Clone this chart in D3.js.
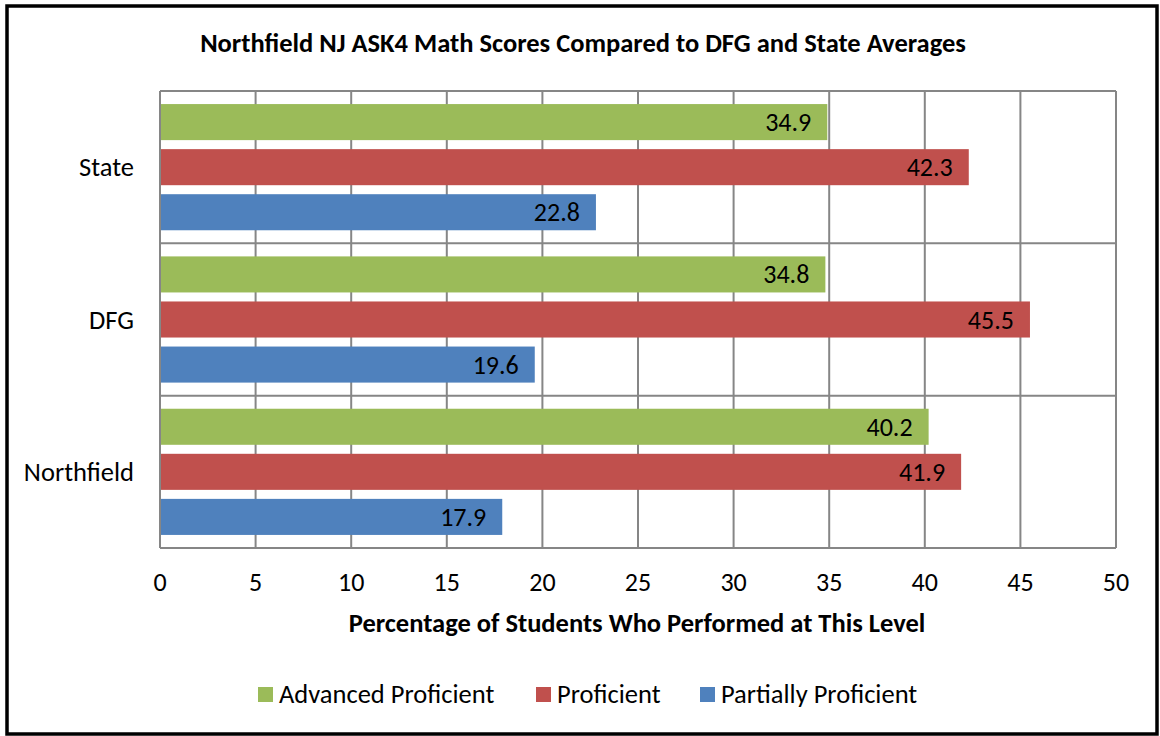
<!DOCTYPE html>
<html>
<head>
<meta charset="utf-8">
<script src="https://cdn.jsdelivr.net/npm/d3@7"></script>
<style>
  body { margin: 0; background: #fff; }
  text { font-family: Carlito, Calibri, Lato, sans-serif; fill: #000; }
</style>
</head>
<body>
<svg id="chart"></svg>
<script>
// data
var categories = ["State", "DFG", "Northfield"];
var seriesNames = ["Advanced Proficient", "Proficient", "Partially Proficient"];
var advanced = [34.9, 34.8, 40.2];
var proficient = [42.3, 45.5, 41.9];
var partial = [22.8, 19.6, 17.9];
var xTicks = [0, 5, 10, 15, 20, 25, 30, 35, 40, 45, 50];
var colors = ["#9BBB59", "#C0504D", "#4F81BD"];

var screen = {width: 1160, height: 736}
var plot = {left: 160, right: 1116, top: 91, bottom: 548}

var svg = d3.select("#chart")
  .attr("width", screen.width)
  .attr("height", screen.height)

// outer frame
svg.append("rect")
  .attr("x", 7).attr("y", 6)
  .attr("width", 1150).attr("height", 728)
  .style("fill", "white")
  .style("stroke", "black")
  .style("stroke-width", 3.5)

var x = d3.scaleLinear().domain([0, 50]).range([plot.left, plot.right])
var y = d3.scaleBand().domain(categories).range([plot.top, plot.bottom])
var inner = d3.scaleBand().domain(seriesNames).range([0, y.bandwidth()])
  .paddingInner(0.2).paddingOuter(0.29)

var table = []
categories.forEach(function(c, i) {
  table.push({cat: c, s: seriesNames[0], v: advanced[i], color: colors[0]})
  table.push({cat: c, s: seriesNames[1], v: proficient[i], color: colors[1]})
  table.push({cat: c, s: seriesNames[2], v: partial[i], color: colors[2]})
})

// gridlines
var grid = svg.append("g")
grid.selectAll(".vgrid").data(xTicks).enter()
  .append("line")
  .attr("x1", function(d){ return x(d) }).attr("x2", function(d){ return x(d) })
  .attr("y1", plot.top).attr("y2", plot.bottom)
  .style("stroke", "#868686").style("stroke-width", 2)
var hLines = categories.map(function(c){ return y(c) }).concat([plot.bottom])
grid.selectAll(".hgrid").data(hLines).enter()
  .append("line")
  .attr("x1", plot.left).attr("x2", plot.right)
  .attr("y1", function(d){ return d }).attr("y2", function(d){ return d })
  .style("stroke", "#868686").style("stroke-width", 2)

// bars
svg.append("g").selectAll("rect").data(table).enter()
  .append("rect")
  .attr("x", x(0) + 1)
  .attr("y", function(d){ return y(d.cat) + inner(d.s) })
  .attr("width", function(d){ return x(d.v) - x(0) - 1 })
  .attr("height", inner.bandwidth())
  .style("fill", function(d){ return d.color })

// data labels
svg.append("g").selectAll("text").data(table).enter()
  .append("text")
  .attr("x", function(d){ return x(d.v) - 16 })
  .attr("y", function(d){ return y(d.cat) + inner(d.s) + inner.bandwidth() / 2 + 9 })
  .attr("text-anchor", "end")
  .style("font-size", "26px")
  .text(function(d){ return d.v.toFixed(1) })

// category labels
svg.append("g").selectAll("text").data(categories).enter()
  .append("text")
  .attr("x", 134)
  .attr("y", function(d){ return y(d) + y.bandwidth() / 2 + 9 })
  .attr("text-anchor", "end")
  .style("font-size", "26.5px")
  .text(function(d){ return d })

// x tick labels
svg.append("g").selectAll("text").data(xTicks).enter()
  .append("text")
  .attr("x", function(d){ return x(d) })
  .attr("y", 591)
  .attr("text-anchor", "middle")
  .style("font-size", "26px")
  .text(function(d){ return d })

// titles
svg.append("text")
  .attr("x", 583).attr("y", 52)
  .attr("text-anchor", "middle")
  .style("font-size", "26.5px").style("font-weight", "bold")
  .text("Northfield NJ ASK4 Math Scores Compared to DFG and State Averages")

svg.append("text")
  .attr("x", 637).attr("y", 632)
  .attr("text-anchor", "middle")
  .style("font-size", "26.5px").style("font-weight", "bold")
  .text("Percentage of Students Who Performed at This Level")

// legend
var legendX = [258, 536, 700]
var legend = svg.append("g").selectAll("g").data(seriesNames).enter()
  .append("g")
  .attr("transform", function(d, i){ return "translate(" + legendX[i] + ",687)" })
legend.append("rect")
  .attr("width", 15).attr("height", 15)
  .style("fill", function(d, i){ return colors[i] })
legend.append("text")
  .attr("x", 21).attr("y", 16)
  .style("font-size", "26.5px")
  .text(function(d){ return d })
</script>
</body>
</html>
